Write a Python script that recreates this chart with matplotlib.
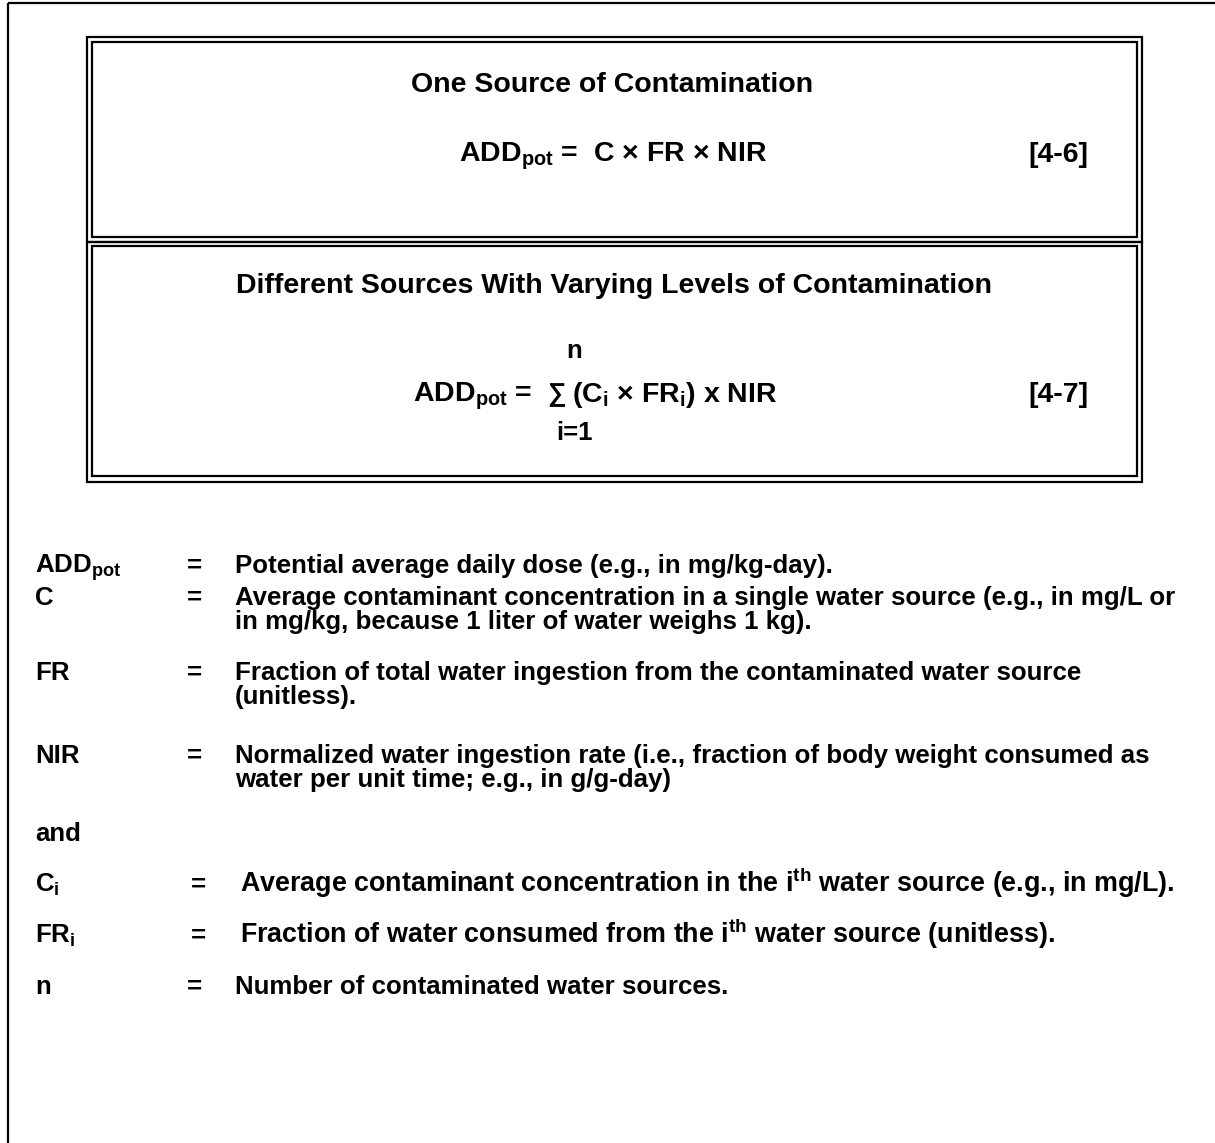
import matplotlib.pyplot as plt
from matplotlib.patches import Rectangle

plt.rcParams['font.family'] = ['Liberation Sans', 'DejaVu Sans']
plt.rcParams['font.weight'] = 'bold'
plt.rcParams['mathtext.fontset'] = 'custom'
plt.rcParams['mathtext.rm'] = 'Liberation Sans:bold'
plt.rcParams['mathtext.it'] = 'Liberation Sans:bold'
plt.rcParams['mathtext.bf'] = 'Liberation Sans:bold'

W, H = 1215, 1143

# text content
box_titles = ["One Source of Contamination",
              "Different Sources With Varying Levels of Contamination"]
eq_one = r"ADD$_{pot}$ =  C × FR × NIR"
eq_two_lhs = r"ADD$_{pot}$ ="
eq_two_rhs = r"(C$_i$ × FR$_i$) x NIR"
eq_numbers = ["[4-6]", "[4-7]"]

symbols = [r"ADD$_{pot}$", "C", "FR", "NIR", "and", r"C$_i$", r"FR$_i$", "n"]
definitions = [
    ["Potential average daily dose (e.g., in mg/kg-day)."],
    ["Average contaminant concentration in a single water source (e.g., in mg/L or",
     "in mg/kg, because 1 liter of water weighs 1 kg)."],
    ["Fraction of total water ingestion from the contaminated water source",
     "(unitless)."],
    ["Normalized water ingestion rate (i.e., fraction of body weight consumed as",
     "water per unit time; e.g., in g/g-day)"],
    [],
    [r"Average contaminant concentration in the i$^{th}$ water source (e.g., in mg/L)."],
    [r"Fraction of water consumed from the i$^{th}$ water source (unitless)."],
    ["Number of contaminated water sources."],
]

# layout (pixel coords, y = baseline)
row_base = [573, 605, 680, 763, 841, 892, 943, 994]
eq_x = [187, 187, 187, 187, None, 191, 191, 187]
def_x = [235, 235, 235, 235, None, 240, 240, 235]
row_fs = [18.6, 18.6, 18.6, 18.6, 18.6, 19.4, 19.4, 18.6]
line_gap = 24
fs_box = 20.5

fig = plt.figure(figsize=(W / 100, H / 100), dpi=100)
ax = fig.add_axes([0, 0, 1, 1])
ax.set_xlim(0, W)
ax.set_ylim(H, 0)
ax.axis('off')

lw = 1.6
# outer frame (runs off the right and bottom edges)
ax.add_patch(Rectangle((8, 3), W + 20, H + 20, fill=False, lw=lw, ec='black'))

# double-ruled boxes
for (x0, y0, x1, y1) in [(87, 37, 1142, 242), (92, 42, 1137, 237),
                         (87, 242, 1142, 482), (92, 246, 1137, 476)]:
    ax.add_patch(Rectangle((x0, y0), x1 - x0, y1 - y0, fill=False, lw=lw, ec='black'))

# box 1
ax.text(612, 92, box_titles[0], fontsize=fs_box, ha='center', va='baseline')
ax.text(459, 162, eq_one, fontsize=fs_box, ha='left', va='baseline')
ax.text(1028, 162, eq_numbers[0], fontsize=fs_box, ha='left', va='baseline')

# box 2
ax.text(614, 293, box_titles[1], fontsize=fs_box, ha='center', va='baseline')
ax.text(413, 402, eq_two_lhs, fontsize=fs_box, ha='left', va='baseline')
ax.text(556, 401, "∑", fontsize=fs_box - 2, ha='center', va='baseline')
ax.text(574, 358, "n", fontsize=fs_box - 2, ha='center', va='baseline')
ax.text(574, 440, "i=1", fontsize=fs_box - 2, ha='center', va='baseline')
ax.text(572, 402, eq_two_rhs, fontsize=fs_box, ha='left', va='baseline')
ax.text(1028, 402, eq_numbers[1], fontsize=fs_box, ha='left', va='baseline')

# definitions
for sym, lines, yb, ex, dx, f in zip(symbols, definitions, row_base, eq_x, def_x, row_fs):
    ax.text(35, yb, sym, fontsize=18.6, ha='left', va='baseline')
    if not lines:
        continue
    ax.text(ex, yb, "=", fontsize=18.6, ha='left', va='baseline')
    for k, ln in enumerate(lines):
        ax.text(dx, yb + k * line_gap, ln, fontsize=f, ha='left', va='baseline')

fig.savefig("out.png", dpi=100)
